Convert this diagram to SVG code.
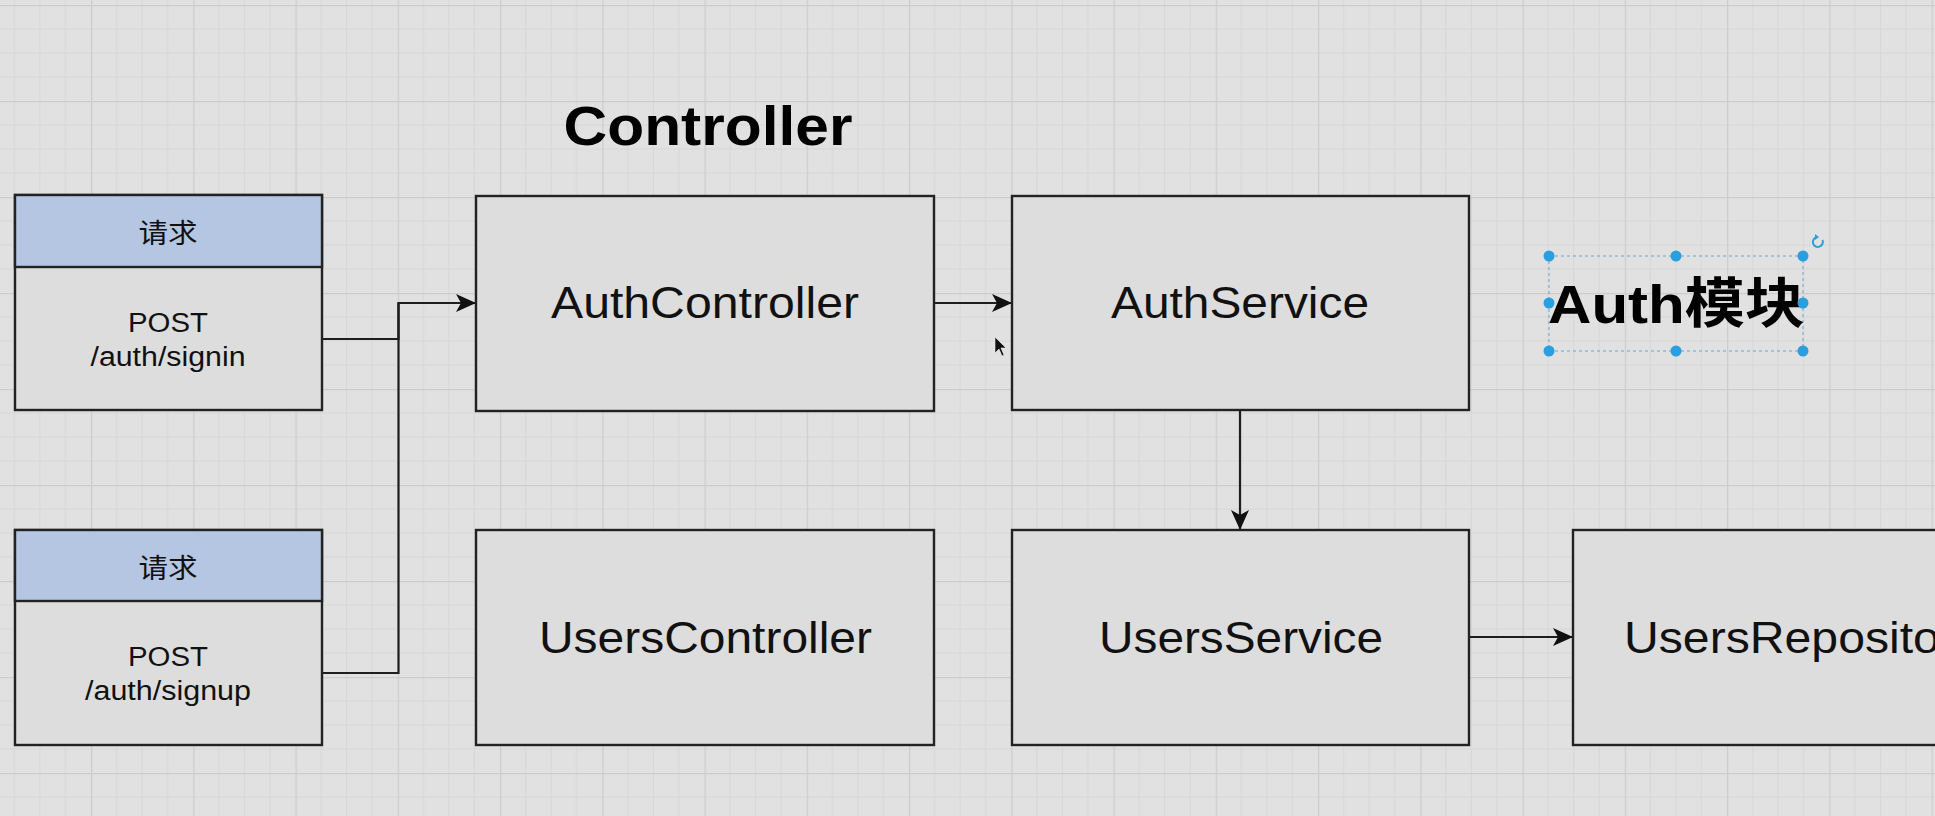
<svg xmlns="http://www.w3.org/2000/svg" width="1935" height="816" viewBox="0 0 1935 816">
<style>
.box{fill:#dddddd;stroke:#222;stroke-width:2.4}
.hdr{fill:#b4c6e2;stroke:#222;stroke-width:2.4}
.lbl{font-family:"Liberation Sans",Arial,"Noto Sans CJK SC",sans-serif;fill:#111;text-anchor:middle}
.big{font-size:45px}
.sm{font-size:27px}
.cjk{font-family:"Liberation Sans","Noto Sans CJK SC",sans-serif}
.ttl{font-family:"Liberation Sans",Arial,"Noto Sans CJK SC",sans-serif;font-weight:bold;fill:#000}
.conn{fill:none;stroke:#1e1e1e;stroke-width:2.2}
.hd{fill:#2a9fe0}
</style>
<defs>
<pattern id="grid" patternUnits="userSpaceOnUse" x="91" y="5" width="102.25" height="96">
<rect width="102.25" height="96" fill="#e1e1e1"/>
<path d="M25.56,0V96M51.12,0V96M76.69,0V96M0,24H102.25M0,48H102.25M0,72H102.25" stroke="#d7d7d7" stroke-width="1"/>
<path d="M0.6,0V96M0,0.6H102.25" stroke="#cdcdcd" stroke-width="1.3"/>
</pattern>
<marker id="arr" markerUnits="userSpaceOnUse" viewBox="0 0 20 18" markerWidth="20" markerHeight="18" refX="20" refY="9" orient="auto">
<path d="M0,0L20,9L0,18L5,9Z" fill="#111"/>
</marker>
</defs>
<rect width="1935" height="816" fill="url(#grid)"/>

<text class="ttl" x="708" y="145" font-size="56" text-anchor="middle" textLength="289" lengthAdjust="spacingAndGlyphs">Controller</text>

<g id="connectors">
<path class="conn" d="M322,339H398.5V303H476" marker-end="url(#arr)"/>
<path class="conn" d="M322,673H398.5V303"/>
<path class="conn" d="M934,303H1012" marker-end="url(#arr)"/>
<path class="conn" d="M1240,410V530" marker-end="url(#arr)"/>
<path class="conn" d="M1469,637H1573" marker-end="url(#arr)"/>
</g>

<g id="req-signin">
<rect class="box" x="15" y="195" width="307" height="215"/>
<rect class="hdr" x="15" y="195" width="307" height="72"/>
<text class="lbl sm cjk" x="168" y="243" textLength="59" lengthAdjust="spacingAndGlyphs">请求</text>
<text class="lbl sm" x="168" y="332" textLength="80" lengthAdjust="spacingAndGlyphs">POST</text>
<text class="lbl sm" x="168" y="366" textLength="155" lengthAdjust="spacingAndGlyphs">/auth/signin</text>
</g>

<g id="req-signup">
<rect class="box" x="15" y="530" width="307" height="215"/>
<rect class="hdr" x="15" y="530" width="307" height="71"/>
<text class="lbl sm cjk" x="168" y="578" textLength="59" lengthAdjust="spacingAndGlyphs">请求</text>
<text class="lbl sm" x="168" y="666" textLength="80" lengthAdjust="spacingAndGlyphs">POST</text>
<text class="lbl sm" x="168" y="700" textLength="166" lengthAdjust="spacingAndGlyphs">/auth/signup</text>
</g>

<g id="auth-controller">
<rect class="box" x="476" y="196" width="458" height="215"/>
<text class="lbl big" x="705" y="318" textLength="308" lengthAdjust="spacingAndGlyphs">AuthController</text>
</g>

<g id="auth-service">
<rect class="box" x="1012" y="196" width="457" height="214"/>
<text class="lbl big" x="1240" y="318" textLength="258" lengthAdjust="spacingAndGlyphs">AuthService</text>
</g>

<g id="users-controller">
<rect class="box" x="476" y="530" width="458" height="215"/>
<text class="lbl big" x="705.5" y="653" textLength="333" lengthAdjust="spacingAndGlyphs">UsersController</text>
</g>

<g id="users-service">
<rect class="box" x="1012" y="530" width="457" height="215"/>
<text class="lbl big" x="1241" y="653" textLength="284" lengthAdjust="spacingAndGlyphs">UsersService</text>
</g>

<g id="users-repository">
<rect class="box" x="1573" y="530" width="420" height="215"/>
<text class="lbl big" x="1624" y="653" style="text-anchor:start" textLength="356" lengthAdjust="spacingAndGlyphs">UsersRepository</text>
</g>

<g id="auth-module">
<rect x="1549" y="256" width="254" height="95" fill="none" stroke="#6aa6cf" stroke-width="1" stroke-dasharray="3 3"/>
<text class="ttl" x="1548" y="323" font-size="54" textLength="257" lengthAdjust="spacingAndGlyphs">Auth模块</text>
<circle class="hd" cx="1549" cy="256" r="5.5"/>
<circle class="hd" cx="1676" cy="256" r="5.5"/>
<circle class="hd" cx="1803" cy="256" r="5.5"/>
<circle class="hd" cx="1549" cy="303" r="5.5"/>
<circle class="hd" cx="1803" cy="303" r="5.5"/>
<circle class="hd" cx="1549" cy="351" r="5.5"/>
<circle class="hd" cx="1676" cy="351" r="5.5"/>
<circle class="hd" cx="1803" cy="351" r="5.5"/>
<path d="M1822.5,240A5,5 0 1 1 1817,237" fill="none" stroke="#2a9fe0" stroke-width="2"/>
<path d="M1815,234L1819,237L1815,240Z" fill="#2a9fe0"/>
</g>

<path d="M995,337L995,353L999,349L1002,356L1004,355L1001,348L1006,348Z" fill="#111" stroke="#eee" stroke-width="0.6"/>
</svg>
